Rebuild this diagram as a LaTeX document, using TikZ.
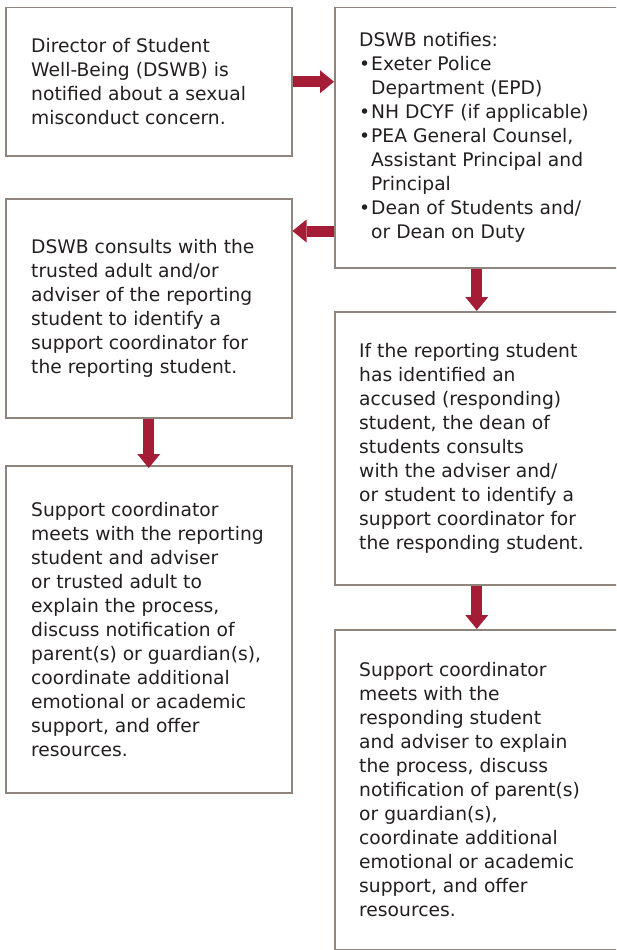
\documentclass[tikz,border=0pt]{standalone}
\usepackage{fontspec}
\setmainfont{DejaVu Sans}
\usetikzlibrary{arrows.meta}
\definecolor{crimson}{HTML}{A51C36}
\definecolor{boxline}{HTML}{8F857D}
\definecolor{ink}{HTML}{231F20}
\tikzset{
	box/.style={draw=boxline, line width=1.5pt, rectangle, anchor=north west, minimum width=286pt, inner sep=0pt},
	txt/.style={anchor=west, align=left, inner sep=0pt, text=ink, font=\fontsize{18.7}{24}\selectfont},
	bigarrow/.style={draw=crimson, line width=11pt, -{Triangle[width=23pt,length=14pt,line width=0pt]}}
}
\newcommand{\bul}{\makebox[12pt][l]{\textbullet}}
\newcommand{\ind}{\hspace*{12pt}}
\begin{document}
\begin{tikzpicture}[x=1pt,y=-1pt]
			\useasboundingbox (0,0) rectangle (616,950);
			\clip (0,0) rectangle (616,950);
			\node[box, minimum height=148pt] (dir) at (5,7) {};
			\node[box, minimum width=296pt, minimum height=260pt] (notify) at (334,7) {};
			\node[box, minimum height=219pt] (consult) at (5,198) {};
			\node[box, minimum width=296pt, minimum height=273pt] (accused) at (334,311) {};
			\node[box, minimum height=327pt] (suppA) at (5,465) {};
			\node[box, minimum width=296pt, minimum height=320pt] (suppB) at (334,629) {};
			\node[txt] (dirtxt) at ([xshift=26pt]dir.west) {Director of Student\\Well-Being (DSWB) is\\notified about a sexual\\misconduct concern.};
			\node[txt] (notifytxt) at ([xshift=25pt]notify.west) {DSWB notifies:\\\bul Exeter Police\\\ind Department (EPD)\\\bul NH DCYF (if applicable)\\\bul PEA General Counsel,\\\ind Assistant Principal and\\\ind Principal\\\bul Dean of Students and/\\\ind or Dean on Duty};
			\node[txt] (consulttxt) at ([xshift=26pt]consult.west) {DSWB consults with the\\trusted adult and/or\\adviser of the reporting\\student to identify a\\support coordinator for\\the reporting student.};
			\node[txt] (accusedtxt) at ([xshift=25pt]accused.west) {If the reporting student\\has identified an\\accused (responding)\\student, the dean of\\students consults\\with the adviser and/\\or student to identify a\\support coordinator for\\the responding student.};
			\node[txt] (suppAtxt) at ([xshift=26pt]suppA.west) {Support coordinator\\meets with the reporting\\student and adviser\\or trusted adult to\\explain the process,\\discuss notification of\\parent(s) or guardian(s),\\coordinate additional\\emotional or academic\\support, and offer\\resources.};
			\node[txt] (suppBtxt) at ([xshift=25pt]suppB.west) {Support coordinator\\meets with the\\responding student\\and adviser to explain\\the process, discuss\\notification of parent(s)\\or guardian(s),\\coordinate additional\\emotional or academic\\support, and offer\\resources.};
			\coordinate (back) at (0,231);
			\draw[bigarrow] (dir.east) -- (notify.west |- dir.east);
			\draw[bigarrow] (notify.west |- back) -- (consult.east |- back);
			\draw[bigarrow] ([xshift=-6pt]notify.south) -- ([xshift=-6pt]accused.north);
			\draw[bigarrow] (consult.south) -- ([yshift=-3pt]suppA.north);
			\draw[bigarrow] ([xshift=-6pt]accused.south) -- ([xshift=-6pt]suppB.north);
		\end{tikzpicture}
\end{document}
